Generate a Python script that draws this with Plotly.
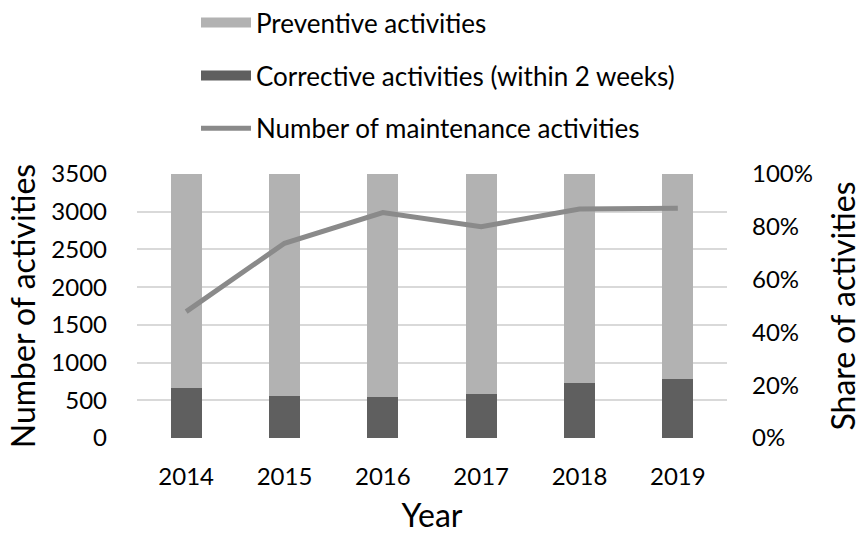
import plotly.graph_objects as go

years = ["2014", "2015", "2016", "2017", "2018", "2019"]
corrective_share = [19.1, 15.9, 15.4, 16.8, 20.9, 22.3]      # % of activities
preventive_share = [100 - v for v in corrective_share]
n_activities = [1676, 2582, 2988, 2802, 3036, 3046]

FONT = "Lato"
TXT = "#000000"
C_PREV, C_CORR, C_LINE = "#b2b2b2", "#5f5f5f", "#8a8a8a"

fig = go.Figure()
# bars on the share axis (y, drawn below), line on the count axis (y2, overlay)
fig.add_trace(go.Bar(x=years, y=corrective_share, name="Corrective activities (within 2 weeks)",
                     marker=dict(color=C_CORR, line=dict(width=0)), showlegend=False, yaxis="y"))
fig.add_trace(go.Bar(x=years, y=preventive_share, name="Preventive activities",
                     marker=dict(color=C_PREV, line=dict(width=0)), showlegend=False, yaxis="y"))
fig.add_trace(go.Scatter(x=years, y=n_activities, name="Number of maintenance activities",
                         mode="lines", line=dict(color=C_LINE, width=5),
                         legendgroup="n", legendrank=3, yaxis="y2"))

# legend-only entries with wide, Excel-like swatches for the bars
fig.add_trace(go.Scatter(x=[None], y=[None], mode="lines", name="Preventive activities",
                         line=dict(color=C_PREV, width=13), legendgroup="p", legendrank=1))
fig.add_trace(go.Scatter(x=[None], y=[None], mode="lines",
                         name="Corrective activities (within 2 weeks)",
                         line=dict(color=C_CORR, width=13), legendgroup="c", legendrank=2))

fig.update_layout(
    width=862, height=534,
    margin=dict(l=137, r=135, t=174, b=96, autoexpand=False),
    paper_bgcolor="white", plot_bgcolor="white",
    barmode="stack", bargap=0.685,
    font=dict(family=FONT, color=TXT, size=24),
    showlegend=True,
    legend=dict(x=(196 - 137) / 590, xanchor="left", y=1 + (174 + 1) / 264.3, yanchor="top",
                orientation="v", traceorder="grouped", tracegroupgap=16,
                font=dict(family=FONT, size=26, color=TXT), bgcolor="rgba(0,0,0,0)",
                itemwidth=50),
    xaxis=dict(showgrid=False, showline=False, ticks="", tickfont=dict(size=24),
               ticklabelstandoff=22,
               title=dict(text="Year", font=dict(size=32), standoff=16)),
    yaxis=dict(side="right", range=[0, 100], tickvals=[0, 20, 40, 60, 80, 100],
               ticktext=["0%", "20%", "40%", "60%", "80%", "100%"],
               showgrid=False, zeroline=False, showline=False, ticklabelstandoff=24,
               tickfont=dict(size=24),
               minor=dict(tickvals=[i * 100 / 7 for i in range(8)], showgrid=True,
                          gridcolor="#d9d9d9", gridwidth=2, ticks=""),
               title=dict(text="Share of activities", font=dict(size=32), standoff=20)),
    yaxis2=dict(side="left", overlaying="y", range=[0, 3500], dtick=500,
                showgrid=False, zeroline=False, showline=False, ticklabelstandoff=29,
                tickfont=dict(size=24),
                title=dict(text="Number of activities", font=dict(size=32), standoff=6)),
)

fig.write_html("out.html", config={"displayModeBar": False},
               post_script="document.body.style.margin='0';")
